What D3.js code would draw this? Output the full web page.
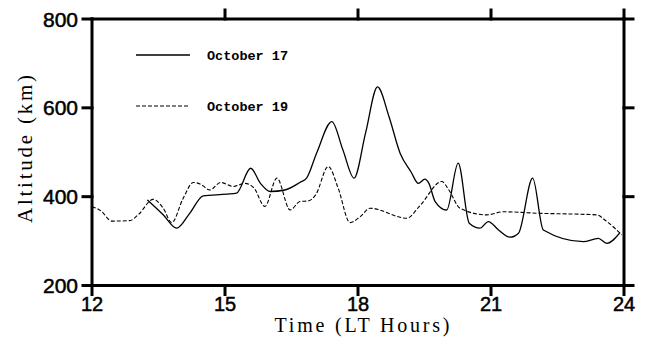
<!DOCTYPE html>
<html><head><meta charset="utf-8">
<script src="https://cdn.jsdelivr.net/npm/d3@7"></script>
<style>body{margin:0;background:#fff}svg{display:block}</style>
</head><body>
<svg id="c" width="649" height="339"></svg>
<script>
const xTicks = [12, 15, 18, 21, 24];
const yTicks = [200, 400, 600, 800];
const seriesNames = ["October 17", "October 19"];

const oct17Hours = [13.25, 13.6, 13.91, 14.2, 14.51, 15.04, 15.26, 15.58, 15.8, 16.02, 16.35, 16.69, 16.84, 17.07, 17.41, 17.66, 17.91, 18.17, 18.44, 18.7, 18.95, 19.2, 19.36, 19.51, 19.6, 19.74, 20.0, 20.26, 20.51, 20.75, 20.94, 21.17, 21.43, 21.62, 21.94, 22.18, 23.08, 23.42, 23.61, 23.91];
const oct17Alt   = [392.8, 360, 329, 362, 402, 405.6, 408, 464, 430, 411.6, 415, 432, 441.7, 499, 569, 505, 441.7, 543, 647, 580, 498, 455, 430, 439.5, 430, 389, 370, 475.5, 340, 329, 344, 325, 308.7, 317.7, 441.7, 325, 298.8, 306, 295, 319];

const oct19Hours = [12.0, 12.2, 12.45, 12.85, 13.05, 13.38, 13.6, 13.8, 14.05, 14.29, 14.45, 14.66, 14.9, 15.19, 15.45, 15.65, 15.9, 16.17, 16.47, 16.69, 16.88, 17.05, 17.33, 17.55, 17.82, 18.05, 18.27, 19.1, 19.4, 19.89, 20.05, 20.3, 20.9, 21.28, 22.03, 23.38, 23.6, 23.95];
const oct19Alt   = [378, 368, 345, 346, 360, 394, 375, 341.6, 395, 432, 428, 415, 432, 423, 430, 420, 378, 441.7, 370, 389, 390.5, 405, 468, 420, 341.6, 355, 374, 351.5, 380, 434, 415, 374, 359, 366, 362.8, 359, 345, 314];

const svg = d3.select("#c");
const x = d3.scaleLinear().domain([12, 24]).range([92, 624]);
const y = d3.scaleLinear().domain([200, 800]).range([285.5, 19]);

const line = d3.line().x(d => x(d[0])).y(d => y(d[1])).curve(d3.curveMonotoneX);
const s17 = oct17Hours.map((h, i) => [h, oct17Alt[i]]);
const s19 = oct19Hours.map((h, i) => [h, oct19Alt[i]]);

svg.append("path").attr("d", line(s19)).attr("fill", "none").attr("stroke", "#000")
  .attr("stroke-width", 1.1).attr("stroke-dasharray", "4,2");
svg.append("path").attr("d", line(s17)).attr("fill", "none").attr("stroke", "#000")
  .attr("stroke-width", 1.3);

// frame
const ax = svg.append("g").attr("stroke", "#000").attr("stroke-width", 3).attr("stroke-linecap", "square");
ax.append("line").attr("x1", x(12)).attr("x2", x(24)).attr("y1", y(200)).attr("y2", y(200));
ax.append("line").attr("x1", x(12)).attr("x2", x(24)).attr("y1", y(800)).attr("y2", y(800));
ax.append("line").attr("x1", x(12)).attr("x2", x(12)).attr("y1", y(200)).attr("y2", y(800));
ax.append("line").attr("x1", x(24)).attr("x2", x(24)).attr("y1", y(200)).attr("y2", y(800));
const tl = 9;
xTicks.forEach(t => {
  ax.append("line").attr("x1", x(t)).attr("x2", x(t)).attr("y1", y(200)).attr("y2", y(200) + tl);
  if (t !== 12) ax.append("line").attr("x1", x(t)).attr("x2", x(t)).attr("y1", y(800)).attr("y2", y(800) - tl);
});
yTicks.forEach(t => {
  ax.append("line").attr("x1", x(12)).attr("x2", x(12) - tl).attr("y1", y(t)).attr("y2", y(t));
  ax.append("line").attr("x1", x(24)).attr("x2", x(24) + tl).attr("y1", y(t)).attr("y2", y(t));
});

const tickFont = "'Liberation Sans', Arial, sans-serif";
xTicks.forEach(t => {
  svg.append("text").attr("x", x(t)).attr("y", 311).attr("text-anchor", "middle")
    .attr("font-family", tickFont).attr("font-size", 20).attr("stroke", "#000").attr("stroke-width", 0.5).text(t);
});
yTicks.forEach(t => {
  svg.append("text").attr("x", 78).attr("y", y(t) + 7.5).attr("text-anchor", "end")
    .attr("font-family", tickFont).attr("font-size", 21).attr("stroke", "#000").attr("stroke-width", 0.5).text(t);
});

const serif = "'Liberation Serif', 'Times New Roman', serif";
svg.append("text").attr("x", 362).attr("y", 332).attr("text-anchor", "middle")
  .attr("font-family", serif).attr("font-size", 20).attr("textLength", 175).attr("lengthAdjust", "spacing")
  .text("Time (LT Hours)");
svg.append("text").attr("transform", "translate(32,149) rotate(-90)").attr("text-anchor", "middle")
  .attr("font-family", serif).attr("font-size", 21).attr("textLength", 148).attr("lengthAdjust", "spacing")
  .text("Altitude (km)");

// legend
const legY = [55, 106];
svg.append("line").attr("x1", 136).attr("x2", 190).attr("y1", legY[0]).attr("y2", legY[0]).attr("stroke", "#000").attr("stroke-width", 1.3);
svg.append("line").attr("x1", 136).attr("x2", 190).attr("y1", legY[1]).attr("y2", legY[1]).attr("stroke", "#000").attr("stroke-width", 1.1).attr("stroke-dasharray", "4,2");
seriesNames.forEach((n, i) => {
  svg.append("text").attr("x", 207).attr("y", legY[i] + 4.5).attr("font-family", "'Liberation Mono', monospace")
    .attr("font-size", 13.5).attr("font-weight", "bold").text(n);
});
</script>
</body></html>
